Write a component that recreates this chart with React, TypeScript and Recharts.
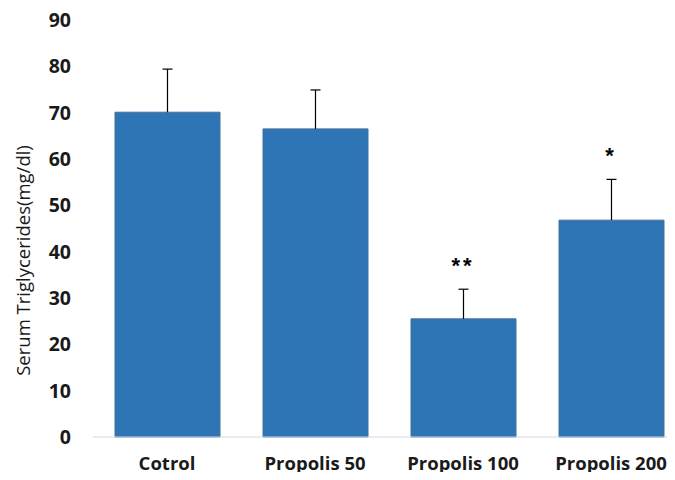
import { ComposedChart, Bar, Line, XAxis, YAxis, LabelList, Label, Rectangle } from "recharts"

// group names and means (mg/dl)
const groups = ["Cotrol", "Propolis 50", "Propolis 100", "Propolis 200"]
const means = [70.1, 66.5, 25.5, 46.8]
// upper error (SD) read from the whiskers
const errors = [9.3, 8.4, 6.4, 8.8]
// significance marks
const marks = ["", "", "**", "*"]
const yTicks = [0, 10, 20, 30, 40, 50, 60, 70, 80, 90]

const data = groups.map((g, i) => ({
  group: g,
  value: means[i],
  err: errors[i],
  top: means[i] + errors[i],
  mark: marks[i],
}))

const font = "'Open Sans', sans-serif"

const YLabel = ({ viewBox }: any) => {
  const x = viewBox.x + 30
  const y = viewBox.y + viewBox.height / 2 + 32
  return (
    <text
      x={x}
      y={y}
      transform={`rotate(-90, ${x}, ${y})`}
      textAnchor="middle"
      fill="#1a1a1a"
      fontSize={18.5}
      fontFamily={font}
    >
      Serum Triglycerides(mg/dl)
    </text>
  )
}

// bar with an upward-only whisker (Excel style "plus" error bar)
const BarWithError = (props: any) => {
  const { x, y, width, height, payload } = props
  const pxPerUnit = height / payload.value
  const cx = x + width / 2
  const yTop = y - payload.err * pxPerUnit
  return (
    <g>
      <Rectangle {...props} />
      <line x1={cx} y1={y} x2={cx} y2={yTop} stroke="#000" strokeWidth={1.2} />
      <line x1={cx - 5} y1={yTop} x2={cx + 5} y2={yTop} stroke="#000" strokeWidth={1.2} />
    </g>
  )
}

export default function App() {
  return (
    <div style={{ width: 675, height: 480, overflow: "hidden", margin: -8, background: "#fff" }}>
      <ComposedChart
        width={685}
        height={480}
        data={data}
        margin={{ top: 20, right: 0, bottom: 0, left: 0 }}
      >
        <XAxis
          dataKey="group"
          height={43}
          tickLine={false}
          tickSize={0}
          tickMargin={20}
          axisLine={{ stroke: "#D0D7E5" }}
          tick={{ fill: "#1a1a1a", fontSize: 18.5, fontWeight: 700, fontFamily: font }}
        />
        <YAxis
          width={93}
          domain={[0, 90]}
          ticks={yTicks}
          interval={0}
          axisLine={false}
          tickLine={false}
          tickSize={0}
          tickMargin={22}
          tick={{ fill: "#1a1a1a", fontSize: 19.5, fontWeight: 700, fontFamily: font }}
        >
          <Label content={<YLabel />} />
        </YAxis>
        <Bar
          dataKey="value"
          fill="#2E75B6"
          stroke="#41719C"
          strokeWidth={1}
          barSize={105}
          shape={<BarWithError />}
          isAnimationActive={false}
        />
        <Line
          dataKey="top"
          stroke="none"
          dot={false}
          activeDot={false}
          isAnimationActive={false}
        >
          <LabelList
            dataKey="mark"
            position="top"
            offset={16}
            style={{ fill: "#000", fontSize: 22, fontWeight: 700, fontFamily: "'Liberation Sans', Arial", letterSpacing: 3 }}
          />
        </Line>
      </ComposedChart>
    </div>
  )
}
